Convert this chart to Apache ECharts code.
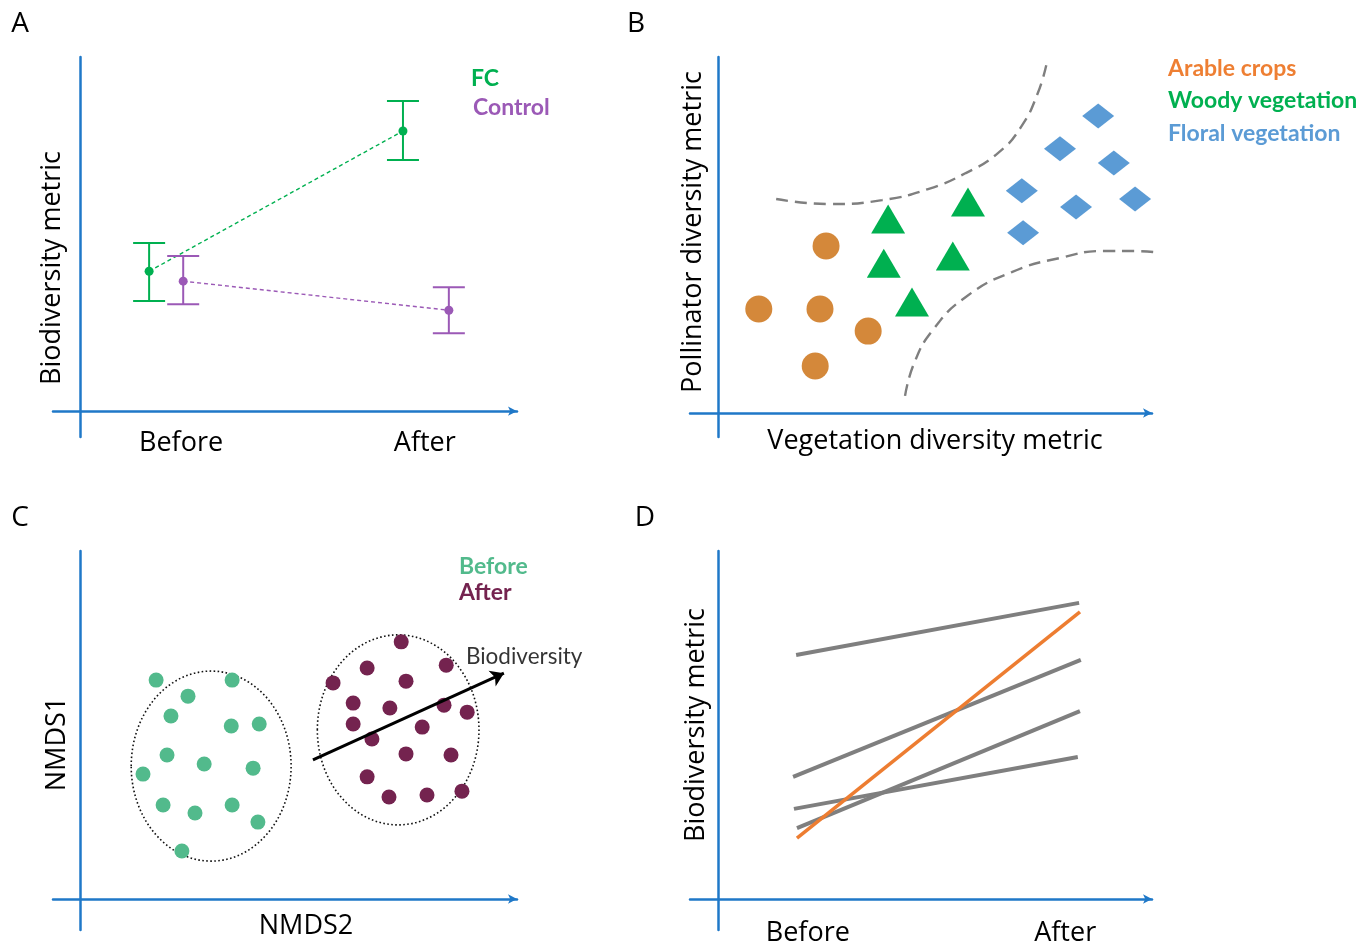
<!DOCTYPE html>
<html><head><meta charset="utf-8">
<script src="https://cdn.jsdelivr.net/npm/echarts@6/dist/echarts.min.js"></script>
<style>html,body{margin:0;padding:0;background:#fff}#c{width:1365px;height:945px}</style>
</head><body><div id="c"></div>
<script>
// ---------- Panel A : biodiversity before/after, FC vs Control ----------
const periodLabels = ['Before', 'After'];
const periodPosA = [2.31, 7.89];
const fcX = [1.58, 7.39];
const fcMean = [3.95, 7.91];
const fcLow = [3.11, 7.09];
const fcHigh = [4.75, 8.76];
const ctrlX = [2.36, 8.44];
const ctrlMean = [3.67, 2.85];
const ctrlLow = [3.02, 2.20];
const ctrlHigh = [4.38, 3.50];

// ---------- Panel B : pollinator vs vegetation diversity ----------
const arableCrops = [[2.49, 4.69], [0.94, 2.92], [2.35, 2.92], [3.46, 2.30], [2.24, 1.32]];
const woodyVeg = [[3.92, 5.45], [5.76, 5.93], [3.82, 4.21], [5.41, 4.41], [4.47, 3.12]];
const floralVeg = [[8.76, 8.34], [7.88, 7.42], [9.12, 7.02], [7.00, 6.24], [8.25, 5.79], [9.61, 6.01], [7.03, 5.06]];
const boundaryUpper = [[1.34, 6.01], [2.60, 5.87], [3.78, 5.98], [4.84, 6.29], [5.71, 6.74], [6.45, 7.30], [6.98, 8.03], [7.37, 8.99], [7.58, 9.86]];
const boundaryLower = [[4.31, 0.48], [4.52, 1.40], [4.95, 2.33], [5.71, 3.26], [6.77, 3.96], [7.86, 4.35], [8.92, 4.55], [9.56, 4.55], [10.53, 4.44]];

// ---------- Panel C : NMDS ordination ----------
const nmdsBefore = [[1.74, 6.29], [3.48, 6.29], [2.47, 5.83], [2.08, 5.26], [3.46, 4.97], [4.10, 5.03], [1.99, 4.14], [2.84, 3.88], [1.44, 3.59], [3.96, 3.76], [1.90, 2.70], [2.63, 2.47], [3.48, 2.70], [4.07, 2.21], [2.33, 1.38]];
const nmdsAfter = [[7.35, 7.39], [6.57, 6.64], [8.38, 6.72], [5.79, 6.21], [7.46, 6.26], [6.25, 5.63], [7.09, 5.49], [8.33, 5.57], [8.86, 5.37], [6.25, 5.03], [6.68, 4.60], [7.83, 4.94], [7.46, 4.17], [8.49, 4.14], [6.57, 3.51], [7.07, 2.93], [7.94, 2.99], [8.74, 3.10]];
const ellipses = [[3.00, 3.82, 1.83, 2.73], [7.28, 4.86, 1.85, 2.73]]; // cx, cy, rx, ry
const biodivArrow = [[5.33, 4.00], [9.70, 6.49]];
const biodivLabelAt = [8.83, 6.95];

// ---------- Panel D : site trajectories ----------
const periodPosD = [2.07, 8.0];
const siteBeforeX = [1.80, 1.73, 1.75, 1.82];
const siteAfterX = [8.32, 8.36, 8.29, 8.34];
const siteBefore = [7.01, 3.51, 2.59, 2.04];
const siteAfter = [8.51, 6.87, 4.08, 5.40];
const focalX = [1.82, 8.34];
const focalValues = [1.75, 8.25];

// ---------- styling ----------
const AXIS_BLUE = '#1f78c8';
const FONT = 'Open Sans';
const TXT = '#000';
const C_FC = '#00b050', C_CTRL = '#9b59b6';
const C_ARABLE = '#d4883a', C_ARABLE_TXT = '#ee7f33', C_WOODY = '#00b050', C_FLORAL = '#5b9bd5';
const C_BEFORE = '#52ba8c', C_AFTER = '#74234f';
const C_GREY = '#7f7f7f', C_ORANGE = '#ed7d31';

const grids = [
  {left: 53, top: 57, width: 464, height: 380, outerBoundsMode: 'none', containLabel: false},
  {left: 690, top: 57, width: 462, height: 380, outerBoundsMode: 'none', containLabel: false},
  {left: 53, top: 551, width: 464, height: 379, outerBoundsMode: 'none', containLabel: false},
  {left: 690, top: 551, width: 462, height: 379, outerBoundsMode: 'none', containLabel: false}
];
const xr = [[-0.62, 10], [-0.645, 10], [-0.62, 10], [-0.645, 10]];
const yr = [[-0.73, 10], [-0.674, 10], [-0.89, 10], [-0.89, 10]];

function xAxisFor(i, labels, pos, margin) {
  const ax = {
    type: 'value', gridIndex: i, min: xr[i][0], max: xr[i][1],
    axisLine: {show: true, onZero: true, symbol: ['none', 'arrow'], symbolSize: [7, 9],
      lineStyle: {color: AXIS_BLUE, width: 2.5}},
    axisTick: {show: false}, splitLine: {show: false},
    axisLabel: {show: false}
  };
  if (labels) {
    ax.axisLabel = {show: true, customValues: pos, margin: margin,
      fontFamily: FONT, fontSize: 27, color: TXT,
      formatter: function (v) {
        let best = 0;
        pos.forEach((p, k) => { if (Math.abs(p - v) < Math.abs(pos[best] - v)) best = k; });
        return labels[best];
      }};
  }
  return ax;
}
function yAxisFor(i) {
  return {
    type: 'value', gridIndex: i, min: yr[i][0], max: yr[i][1],
    axisLine: {show: true, onZero: true, lineStyle: {color: AXIS_BLUE, width: 2.5}},
    axisTick: {show: false}, splitLine: {show: false}, axisLabel: {show: false}
  };
}

function errRender(color) {
  return function (params, api) {
    const x = api.value(0), m = api.value(1), lo = api.value(2), hi = api.value(3);
    const pm = api.coord([x, m]), pl = api.coord([x, lo]), ph = api.coord([x, hi]);
    const cap = 16, st = {stroke: color, lineWidth: 2};
    return {type: 'group', children: [
      {type: 'line', shape: {x1: pm[0], y1: ph[1], x2: pm[0], y2: pl[1]}, style: st},
      {type: 'line', shape: {x1: pm[0] - cap, y1: ph[1], x2: pm[0] + cap, y2: ph[1]}, style: st},
      {type: 'line', shape: {x1: pm[0] - cap, y1: pl[1], x2: pm[0] + cap, y2: pl[1]}, style: st},
      {type: 'circle', shape: {cx: pm[0], cy: pm[1], r: 4.5}, style: {fill: color}}
    ]};
  };
}
function ellipseRender(params, api) {
  const c = api.coord([api.value(0), api.value(1)]);
  const s = api.size([api.value(2), api.value(3)]);
  return {type: 'ellipse', shape: {cx: c[0], cy: c[1], rx: s[0], ry: s[1]},
    style: {fill: 'none', stroke: '#111', lineWidth: 1.6, lineDash: [1.6, 2.4]}};
}

function txt(text, x, y, opts) {
  return Object.assign({type: 'text', x: x, y: y, silent: true,
    style: Object.assign({text: text, fill: TXT, font: '27px "' + FONT + '"',
      textAlign: 'center', textVerticalAlign: 'middle'}, opts && opts.style || {})},
    opts && opts.el || {});
}
const legendFont = 'bold 23px Lato';
const letterFont = '28px "' + FONT + '"';

const option = {
  backgroundColor: '#fff',
  animation: false,
  grid: grids,
  xAxis: [
    xAxisFor(0, periodLabels, periodPosA, -7),
    xAxisFor(1),
    xAxisFor(2),
    xAxisFor(3, periodLabels, periodPosD, -10)
  ],
  yAxis: [yAxisFor(0), yAxisFor(1), yAxisFor(2), yAxisFor(3)],
  series: [
    // Panel A
    {type: 'line', name: 'FC', xAxisIndex: 0, yAxisIndex: 0, data: fcX.map((x, i) => [x, fcMean[i]]),
      showSymbol: false, lineStyle: {color: C_FC, width: 1.4, type: [4, 3]}, z: 2},
    {type: 'line', name: 'Control', xAxisIndex: 0, yAxisIndex: 0, data: ctrlX.map((x, i) => [x, ctrlMean[i]]),
      showSymbol: false, lineStyle: {color: C_CTRL, width: 1.4, type: [4, 3]}, z: 2},
    {type: 'custom', name: 'FC err', xAxisIndex: 0, yAxisIndex: 0, renderItem: errRender(C_FC),
      data: fcX.map((x, i) => [x, fcMean[i], fcLow[i], fcHigh[i]]), encode: {x: 0, y: [1, 2, 3]}, z: 3},
    {type: 'custom', name: 'Control err', xAxisIndex: 0, yAxisIndex: 0, renderItem: errRender(C_CTRL),
      data: ctrlX.map((x, i) => [x, ctrlMean[i], ctrlLow[i], ctrlHigh[i]]), encode: {x: 0, y: [1, 2, 3]}, z: 3},
    // Panel B
    {type: 'line', xAxisIndex: 1, yAxisIndex: 1, data: boundaryUpper, smooth: 0.5, showSymbol: false, clip: false,
      lineStyle: {color: C_GREY, width: 2.4, type: [12, 7]}},
    {type: 'line', xAxisIndex: 1, yAxisIndex: 1, data: boundaryLower, smooth: 0.5, showSymbol: false, clip: false,
      lineStyle: {color: C_GREY, width: 2.4, type: [12, 7]}},
    {type: 'scatter', name: 'Arable crops', xAxisIndex: 1, yAxisIndex: 1, data: arableCrops,
      symbol: 'circle', symbolSize: 27, itemStyle: {color: C_ARABLE, opacity: 1}},
    {type: 'scatter', name: 'Woody vegetation', xAxisIndex: 1, yAxisIndex: 1, data: woodyVeg,
      symbol: 'triangle', symbolSize: [34, 29], itemStyle: {color: C_WOODY, opacity: 1}},
    {type: 'scatter', name: 'Floral vegetation', xAxisIndex: 1, yAxisIndex: 1, data: floralVeg,
      symbol: 'diamond', symbolSize: [32, 25], itemStyle: {color: C_FLORAL, opacity: 1}},
    // Panel C
    {type: 'custom', xAxisIndex: 2, yAxisIndex: 2, renderItem: ellipseRender, data: ellipses,
      encode: {x: 0, y: 1}, z: 1},
    {type: 'scatter', name: 'Before', xAxisIndex: 2, yAxisIndex: 2, data: nmdsBefore,
      symbolSize: 15, itemStyle: {color: C_BEFORE, opacity: 1}, z: 2},
    {type: 'scatter', name: 'After', xAxisIndex: 2, yAxisIndex: 2, data: nmdsAfter,
      symbolSize: 15, itemStyle: {color: C_AFTER, opacity: 1}, z: 2},
    {type: 'lines', coordinateSystem: 'cartesian2d', xAxisIndex: 2, yAxisIndex: 2,
      data: [{coords: biodivArrow}], symbol: ['none', 'arrow'], symbolSize: 13,
      lineStyle: {color: '#000', width: 3, opacity: 1, curveness: 0}, z: 4},
    {type: 'scatter', xAxisIndex: 2, yAxisIndex: 2, data: [biodivLabelAt], symbolSize: 0, clip: false,
      label: {show: true, position: 'right', distance: 0, formatter: 'Biodiversity',
        fontFamily: 'Lato', fontSize: 22.5, color: '#000'}, z: 5},
    // Panel D
    ...siteBefore.map((b, i) => ({type: 'line', xAxisIndex: 3, yAxisIndex: 3,
      data: [[siteBeforeX[i], b], [siteAfterX[i], siteAfter[i]]], showSymbol: false,
      lineStyle: {color: C_GREY, width: 4, cap: 'butt'}, z: 2})),
    {type: 'line', xAxisIndex: 3, yAxisIndex: 3, data: focalX.map((x, i) => [x, focalValues[i]]),
      showSymbol: false, lineStyle: {color: C_ORANGE, width: 3.5, cap: 'butt'}, z: 3}
  ],
  graphic: [
    txt('A', 20, 24, {style: {font: letterFont}}),
    txt('B', 636, 24, {style: {font: letterFont}}),
    txt('C', 20, 518, {style: {font: letterFont}}),
    txt('D', 645, 518, {style: {font: letterFont}}),
    txt('Biodiversity metric', 52, 268, {el: {rotation: Math.PI / 2}}),
    txt('Pollinator diversity metric', 693, 232, {el: {rotation: Math.PI / 2}}),
    txt('Vegetation diversity metric', 935, 441),
    txt('NMDS1', 57, 744, {el: {rotation: Math.PI / 2}}),
    txt('NMDS2', 306, 926),
    txt('Biodiversity metric', 696, 725, {el: {rotation: Math.PI / 2}}),
    txt('FC', 471, 79, {style: {font: legendFont, fill: C_FC, textAlign: 'left'}}),
    txt('Control', 473, 108, {style: {font: legendFont, fill: C_CTRL, textAlign: 'left'}}),
    txt('Arable crops', 1168, 69, {style: {font: legendFont, fill: C_ARABLE_TXT, textAlign: 'left'}}),
    txt('Woody vegetation', 1168, 101, {style: {font: legendFont, fill: C_WOODY, textAlign: 'left'}}),
    txt('Floral vegetation', 1168, 134, {style: {font: legendFont, fill: C_FLORAL, textAlign: 'left'}}),
    txt('Before', 459, 567, {style: {font: legendFont, fill: C_BEFORE, textAlign: 'left'}}),
    txt('After', 459, 593, {style: {font: legendFont, fill: C_AFTER, textAlign: 'left'}})
  ]
};
const chart = echarts.init(document.getElementById('c'), null, {renderer: 'canvas'});
chart.setOption(option);
</script>
</body></html>
